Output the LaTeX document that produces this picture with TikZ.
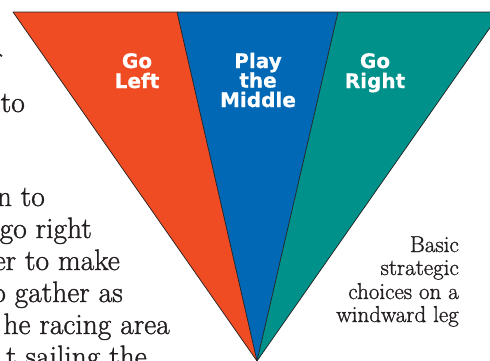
\documentclass[tikz,border=0pt]{standalone}
\usepackage{fontspec}
\newfontfamily\labelfont{DejaVu Sans}[BoldFeatures={FakeBold=0.8}]
\newfontfamily\bodyfont{Latin Modern Roman}[FakeBold=1.2]
\definecolor{leftred}{RGB}{239,76,36}
\definecolor{midblue}{RGB}{0,104,180}
\definecolor{rightteal}{RGB}{0,145,138}
\definecolor{ink}{RGB}{35,31,32}

\begin{document}
\begin{tikzpicture}[x=1pt,y=-1pt,
  lbl/.style={text=white,font=\labelfont\bfseries\fontsize{20}{20}\selectfont,inner sep=0pt,anchor=base},
  body/.style={text=ink,font=\bodyfont\fontsize{29.5}{32}\selectfont,inner sep=0pt,anchor=base east},
  caption/.style={text=ink,font=\bodyfont\fontsize{23}{23.5}\selectfont,inner sep=0pt,anchor=base east},
  edge/.style={draw=ink,line width=0.7pt,line join=round}]
\useasboundingbox (0,0) rectangle (490,360);
\clip (0,0) rectangle (490,360);
\coordinate (TL) at (13,12);
\coordinate (S1) at (177,12);
\coordinate (S2) at (338,12);
\coordinate (TR) at (501,12);
\coordinate (V) at (257,361);
\fill[leftred] (TL) -- (S1) -- (V) -- cycle;
\fill[midblue] (S1) -- (S2) -- (V) -- cycle;
\fill[rightteal] (S2) -- (TR) -- (V) -- cycle;
\draw[edge] (TL) -- (TR) -- (V) -- cycle;
\draw[edge] (S1) -- (V) -- (S2);
\path (137,68) node (left1) [lbl] {Go};
\path (137,88) node (left2) [lbl] {Left};
\path (258,68) node (mid1) [lbl] {Play};
\path (258,87.5) node (mid2) [lbl] {the};
\path (258,107) node (mid3) [lbl] {Middle};
\path (375,68) node (right1) [lbl] {Go};
\path (375,88) node (right2) [lbl] {Right};
\foreach \x/\y/\t [count=\i] in {3/67/r, 25/112/to, 45/206/n to, 92/238/go right,
  120/270/er to make, 123/302/o gather as, 170/334/he racing area, 147/366/t sailing the}
  \path (\x,\y) node (body\i) [body] {\t};
\foreach \y/\t [count=\i] in {252/Basic, 275/strategic, 299/choices on a, 322/windward leg}
  \path (459,\y) node (cap\i) [caption] {\t};
\end{tikzpicture}
\end{document}
